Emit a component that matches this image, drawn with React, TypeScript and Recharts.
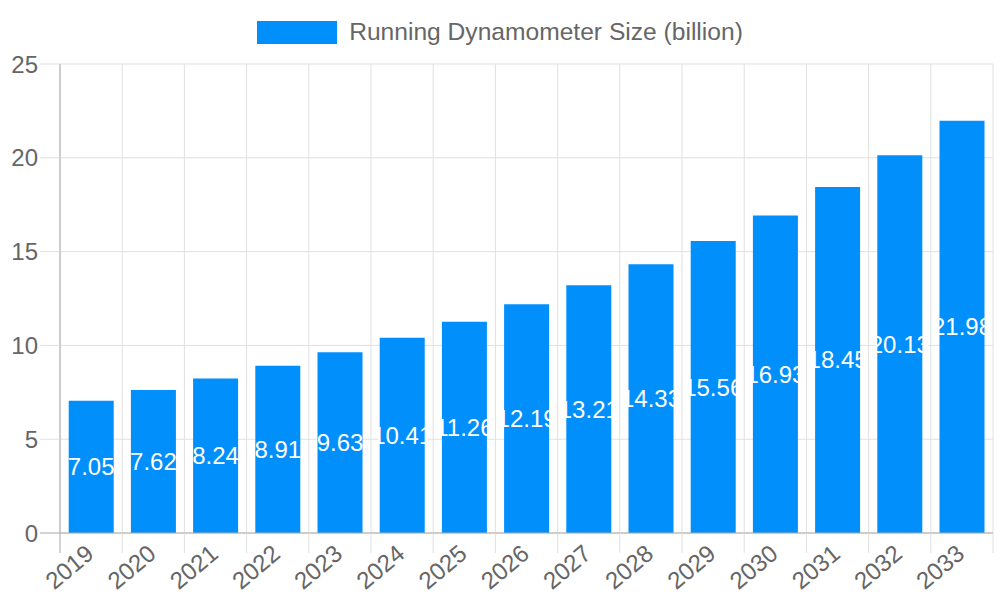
import React from "react";
import { BarChart, Bar, XAxis, YAxis, CartesianGrid, Legend, LabelList } from "recharts";

const years = ["2019","2020","2021","2022","2023","2024","2025","2026","2027","2028","2029","2030","2031","2032","2033"];
const sizes = [7.05, 7.62, 8.24, 8.91, 9.63, 10.41, 11.26, 12.19, 13.21, 14.33, 15.56, 16.93, 18.45, 20.13, 21.98];
const yTicks = [0, 5, 10, 15, 20, 25];
const seriesName = "Running Dynamometer Size (billion)";

const data = years.map((y, i) => ({ year: y, value: sizes[i] }));

const FONT = "'Liberation Sans', Arial, Helvetica, sans-serif";
const BAR = "#008ffb";
const GRID = "#e0e0e0";
const AXIS = "#aaaaaa";
const TEXT = "#666666";

const XTick = (props: any) => {
  const { x, y, payload, index, visibleTicksCount } = props;
  const half = payload?.offset ?? 31;
  const axisY = y - 8;
  const isLast = index === visibleTicksCount - 1;
  return (
    <g>
      <line x1={x - half} y1={axisY} x2={x - half} y2={axisY + 20} stroke={index === 0 ? AXIS : GRID} strokeWidth={1} />
      {isLast && <line x1={x + half} y1={axisY} x2={x + half} y2={axisY + 20} stroke={GRID} strokeWidth={1} />}
      <g transform={`translate(${x - 7},${axisY + 10})`}>
        <text x={0} y={0} dy="0.72em" textAnchor="end" transform="rotate(-40)" fill={TEXT} fontSize={24} fontFamily={FONT}>
          {payload.value}
        </text>
      </g>
    </g>
  );
};

const YTick = (props: any) => {
  const { x, y, payload } = props;
  const isZero = payload.value === 0;
  return (
    <g>
      <line x1={x + 2} y1={y} x2={x + 22} y2={y} stroke={isZero ? AXIS : GRID} strokeWidth={1} />
      <text x={x} y={y} dy="0.355em" textAnchor="end" fill={TEXT} fontSize={24} fontFamily={FONT}>
        {payload.value}
      </text>
    </g>
  );
};

const LegendContent = () => (
  <div style={{ display: "flex", justifyContent: "center", alignItems: "center", fontFamily: FONT, height: 24 }}>
    <div style={{ width: 80, height: 23, background: BAR }} />
    <span style={{ marginLeft: 12, fontSize: 24.6, color: TEXT, lineHeight: "24px" }}>{seriesName}</span>
  </div>
);

export default function App() {
  return (
    <div style={{ position: "absolute", left: 0, top: 0, width: 1000, height: 600, background: "#fff", fontFamily: FONT }}>
      <BarChart width={1000} height={600} data={data} margin={{ top: 40, right: 7, left: 0, bottom: 0 }} barCategoryGap="14%">
        <CartesianGrid
          stroke={GRID}
          verticalCoordinatesGenerator={({ offset }: any) => {
            const step = offset.width / years.length;
            return years.map((_, i) => offset.left + i * step).concat([offset.left + offset.width]);
          }}
        />
        <Legend layout="vertical" verticalAlign="top" align="center" wrapperStyle={{ top: 20, left: 0, width: 1000 }} content={<LegendContent />} />
        <XAxis
          dataKey="year"
          height={67}
          interval={0}
          tickLine={false}
          tickSize={6}
          axisLine={{ stroke: AXIS }}
          tick={<XTick />}
        />
        <YAxis
          width={60}
          domain={[0, 25]}
          ticks={yTicks}
          tickSize={20}
          tickMargin={2}
          tickLine={false}
          axisLine={{ stroke: AXIS }}
          tick={<YTick />}
        />
        <Bar dataKey="value" name={seriesName} fill={BAR} isAnimationActive={false}>
          <LabelList dataKey="value" position="center" fill="#ffffff" fontSize={24} fontFamily={FONT} />
        </Bar>
      </BarChart>
    </div>
  );
}
